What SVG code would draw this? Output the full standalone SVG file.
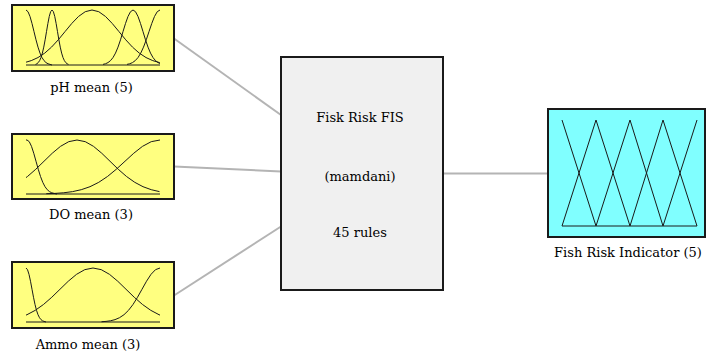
<svg xmlns="http://www.w3.org/2000/svg" width="706" height="356" viewBox="0 0 706 356">
<style>
.in{fill:#ffff80;stroke:#1a1a1a;stroke-width:2}
.out{fill:#80ffff;stroke:#1a1a1a;stroke-width:2}
.fis{fill:#f0f0f0;stroke:#1a1a1a;stroke-width:2}
.mf{fill:none;stroke:#1a1a1a;stroke-width:1;stroke-linejoin:round}
.conn{stroke:#b4b4b4;stroke-width:2;fill:none}
text{font-family:"DejaVu Serif","Liberation Serif",serif;font-size:13px;fill:#000}
</style>
<rect width="706" height="356" fill="#ffffff"/>
<g id="connectors">
<line class="conn" x1="174" y1="38.5" x2="281" y2="115"/>
<line class="conn" x1="174" y1="166.5" x2="281" y2="171.5"/>
<line class="conn" x1="174" y1="295.5" x2="281" y2="226.5"/>
<line class="conn" x1="443" y1="173.5" x2="548" y2="173.5"/>
</g>
<g id="ph">
<rect class="in" x="12" y="5" width="162" height="66"/>
<line class="mf" x1="26" y1="65" x2="160" y2="65"/>
<polyline class="mf" points="26,10 28,11.69 30,16.46 32,23.49 34,31.64 36,39.82 38,47.14 40,53.1 42,57.56 44,60.62 46,62.59 48,63.75 50,64.39 52,65"/>
<polyline class="mf" points="35.5,64.39 36.875,63.75 38.25,62.59 39.625,60.62 41,57.56 42.375,53.1 43.75,47.14 45.125,39.82 46.5,31.64 47.875,23.49 49.25,16.46 50.625,11.69 52,10 53.375,11.69 54.75,16.46 56.125,23.49 57.5,31.64 58.875,39.82 60.25,47.14 61.625,53.1 63,57.56 64.375,60.62 65.75,62.59 67.125,63.75 68.5,64.39"/>
<polyline class="mf" points="26,62.2 31.25,60.62 38,57.56 44.75,53.1 51.5,47.14 58.25,39.82 65,31.64 71.75,23.49 78.5,16.46 85.25,11.69 92,10 98.75,11.69 105.5,16.46 112.25,23.49 119,31.64 125.75,39.82 132.5,47.14 139.25,53.1 146,57.56 152.75,60.62 159.5,62.59 160,62.7"/>
<polyline class="mf" points="103,64.39 105.5,63.75 108,62.59 110.5,60.62 113,57.56 115.5,53.1 118,47.14 120.5,39.82 123,31.64 125.5,23.49 128,16.46 130.5,11.69 133,10 135.5,11.69 138,16.46 140.5,23.49 143,31.64 145.5,39.82 148,47.14 150.5,53.1 153,57.56 155.5,60.62 158,62.59 160,63.5"/>
<polyline class="mf" points="160,10 157.25,11.69 154.5,16.46 151.75,23.49 149,31.64 146.25,39.82 143.5,47.14 140.75,53.1 138,57.56 135.25,60.62 132.5,62.59 129.75,63.75 127,64.39"/>
<text x="91.5" y="92" text-anchor="middle">pH mean (5)</text>
</g>
<g id="do">
<rect class="in" x="12" y="134" width="162" height="65"/>
<line class="mf" x1="26" y1="194" x2="160" y2="194"/>
<polyline class="mf" points="26,140 27,140 29.25,141.66 31.5,146.35 33.75,153.24 36,161.25 38.25,169.28 40.5,176.47 42.75,182.32 45,186.69 47.25,189.7 49.5,191.63 51.75,192.77 54,193.4 57,194"/>
<polyline class="mf" points="26,177.6 27.5,176.47 35.75,169.28 44,161.25 52.25,153.24 60.5,146.35 68.75,141.66 77,140 85.25,141.66 93.5,146.35 101.75,153.24 110,161.25 118.25,169.28 126.5,176.47 134.75,182.32 143,186.69 151.25,189.7 159.5,191.63"/>
<polyline class="mf" points="160,140 151.25,141.66 142.5,146.35 133.75,153.24 125,161.25 116.25,169.28 107.5,176.47 98.75,182.32 90,186.69 81.25,189.7 72.5,191.63 63.75,192.77 55,193.4 46.25,193.7"/>
<text x="91" y="218.5" text-anchor="middle">DO mean (3)</text>
</g>
<g id="ammo">
<rect class="in" x="12" y="262" width="162" height="66"/>
<line class="mf" x1="26" y1="322" x2="160" y2="322"/>
<polyline class="mf" points="26,268 27.5,269.66 29,274.35 30.5,281.24 32,289.25 33.5,297.28 35,304.47 36.5,310.32 38,314.69 39.5,317.7 41,319.63 42.5,320.77 44,321.4 46,322"/>
<polyline class="mf" points="26,315.1 27,314.69 35.25,310.32 43.5,304.47 51.75,297.28 60,289.25 68.25,281.24 76.5,274.35 84.75,269.66 93,268 101.25,269.66 109.5,274.35 117.75,281.24 126,289.25 134.25,297.28 142.5,304.47 150.75,310.32 159,314.69 160,315.1"/>
<polyline class="mf" points="160,268 155.5,269.66 151,274.35 146.5,281.24 142,289.25 137.5,297.28 133,304.47 128.5,310.32 124,314.69 119.5,317.7 115,319.63 110.5,320.77 106,321.4 101.5,321.72"/>
<text x="88" y="348.5" text-anchor="middle">Ammo mean (3)</text>
</g>
<g id="fis">
<rect class="fis" x="281" y="57" width="162" height="233"/>
<text x="360" y="122" text-anchor="middle">Fisk Risk FIS</text>
<text x="360" y="181" text-anchor="middle">(mamdani)</text>
<text x="360" y="237" text-anchor="middle">45 rules</text>
</g>
<g id="output">
<rect class="out" x="548" y="109" width="157" height="128"/>
<line class="mf" x1="562" y1="226" x2="697" y2="226"/>
<polyline class="mf" points="562,120 596,226"/>
<polyline class="mf" points="562,226 596,120 630,226"/>
<polyline class="mf" points="596,226 630,120 663,226"/>
<polyline class="mf" points="630,226 663,120 697,226"/>
<polyline class="mf" points="663,226 697,120"/>
<text x="628" y="257" text-anchor="middle">Fish Risk Indicator (5)</text>
</g>
</svg>
